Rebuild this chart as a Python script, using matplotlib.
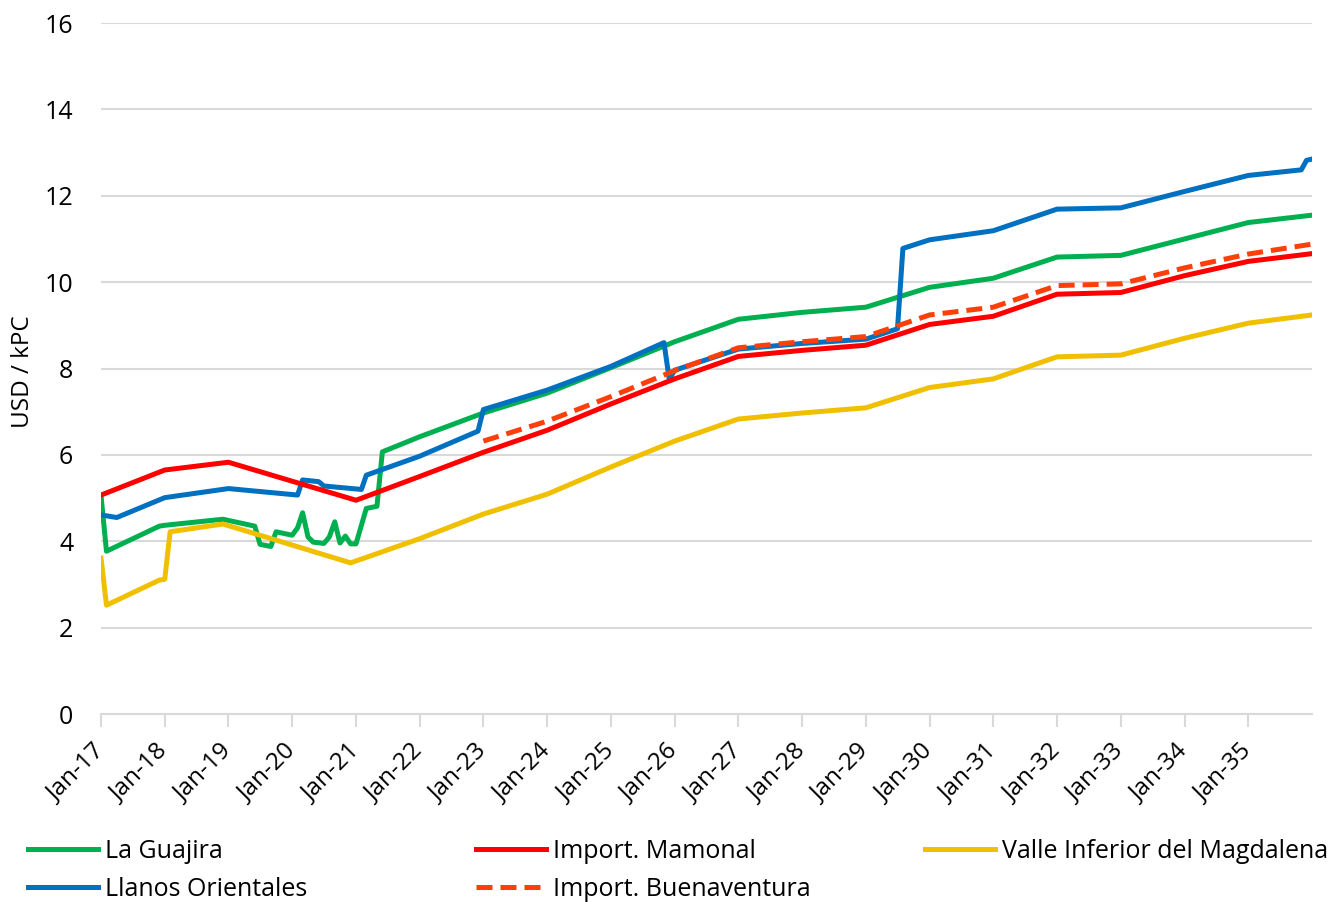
import matplotlib.pyplot as plt
import pandas as pd

# vertices: month index counted from Jan-2017, value in USD / kPC
guajira_m = [0, 1, 11, 12, 23, 29, 30, 32, 33, 36, 37, 38, 39, 40, 42, 43, 44, 45, 46, 47, 48,
             50, 52, 53, 60, 72, 84, 96, 108, 120, 132, 144, 156, 168, 180, 192, 204, 216, 228]
guajira_v = [5.05, 3.77, 4.35, 4.37, 4.51, 4.35, 3.93, 3.88, 4.22, 4.14, 4.31, 4.66, 4.10, 3.98,
             3.95, 4.10, 4.45, 3.96, 4.12, 3.94, 3.94, 4.76, 4.81, 6.07, 6.42, 6.97, 7.43, 8.02,
             8.62, 9.14, 9.30, 9.42, 9.88, 10.09, 10.58, 10.62, 11.00, 11.38, 11.55]

llanos_m = [0, 3, 12, 24, 37, 38, 41, 42, 49, 50, 60, 71, 72, 84, 96, 106, 107, 108, 120, 132,
            144, 150, 151, 156, 168, 180, 192, 204, 216, 226, 227, 228]
llanos_v = [4.61, 4.55, 5.01, 5.22, 5.07, 5.42, 5.38, 5.28, 5.20, 5.53, 5.97, 6.55, 7.05, 7.50,
            8.05, 8.60, 7.75, 7.96, 8.45, 8.58, 8.68, 8.92, 10.78, 10.98, 11.19, 11.69, 11.72,
            12.10, 12.47, 12.60, 12.82, 12.85]

mamonal_m = [0, 12, 24, 48, 60, 72, 84, 96, 108, 120, 132, 144, 156, 168, 180, 192, 204, 216, 228]
mamonal_v = [5.07, 5.65, 5.83, 4.95, 5.50, 6.06, 6.57, 7.18, 7.76, 8.28, 8.42, 8.54, 9.02, 9.21,
             9.72, 9.76, 10.15, 10.48, 10.66]

buenaventura_m = [72, 84, 96, 108, 120, 132, 144, 156, 168, 180, 192, 204, 216, 228]
buenaventura_v = [6.32, 6.78, 7.35, 7.95, 8.48, 8.62, 8.74, 9.24, 9.42, 9.92, 9.96, 10.33, 10.65, 10.88]

valle_m = [0, 1, 11, 12, 13, 23, 47, 60, 72, 84, 96, 108, 120, 132, 144, 156, 168, 180, 192, 204, 216, 228]
valle_v = [3.61, 2.52, 3.10, 3.12, 4.22, 4.40, 3.50, 4.06, 4.63, 5.09, 5.72, 6.32, 6.83, 6.97, 7.09,
           7.56, 7.76, 8.27, 8.31, 8.70, 9.05, 9.24]


def to_dates(months):
    return [pd.Timestamp(2017, 1, 1) + pd.DateOffset(months=m) for m in months]


plt.rcParams['font.family'] = ['Open Sans', 'DejaVu Sans']
fig = plt.figure(figsize=(13.42, 9.02), dpi=100)
ax = fig.add_axes([0.0753, 0.2084, 0.9023, 0.7661])

lw = 3.6
l_g, = ax.plot(to_dates(guajira_m), guajira_v, color="#00B050", lw=lw, label="La Guajira")
l_l, = ax.plot(to_dates(llanos_m), llanos_v, color="#0070C0", lw=lw, label="Llanos Orientales")
l_m, = ax.plot(to_dates(mamonal_m), mamonal_v, color="#FF0000", lw=lw, label="Import. Mamonal")
l_b, = ax.plot(to_dates(buenaventura_m), buenaventura_v, color="#FF3F0A", lw=lw,
               ls=(0, (3.2, 1.6)), label="Import. Buenaventura")
l_v, = ax.plot(to_dates(valle_m), valle_v, color="#F0C000", lw=lw,
               label="Valle Inferior del Magdalena")

ax.set_xlim(pd.Timestamp(2017, 1, 1), pd.Timestamp(2036, 1, 1))
ax.set_ylim(0, 16)
ax.set_yticks(range(0, 17, 2))
ax.yaxis.grid(True, color="#d9d9d9", lw=1.5)
ax.set_axisbelow(True)

years = [pd.Timestamp(y, 1, 1) for y in range(2017, 2036)]
ax.set_xticks(years)
ax.set_xticklabels([d.strftime("%b-%y") for d in years], rotation=45, ha="right", va="center",
                   rotation_mode="anchor", fontsize=17.5)
ax.tick_params(axis="x", length=9, width=1.5, color="#d9d9d9", pad=15)
ax.tick_params(axis="y", length=0, labelsize=18, pad=20)

for s in ["top", "right", "left"]:
    ax.spines[s].set_visible(False)
ax.spines["bottom"].set_color("#d9d9d9")
ax.spines["bottom"].set_linewidth(1.5)

ax.set_ylabel("USD / kPC", fontsize=17.5)
ax.yaxis.set_label_coords(-0.0545, 0.496)

# three legend columns placed like the original
leg_kw = dict(loc="upper left", frameon=False, fontsize=18, handlelength=2.8, handletextpad=0.28,
              labelspacing=0.5, borderpad=0, borderaxespad=0)
top = 1 - 839 / 902
fig.legend(handles=[l_g, l_l], bbox_to_anchor=(28 / 1342, top), **leg_kw)
fig.legend(handles=[l_m, l_b], bbox_to_anchor=(476 / 1342, top), **leg_kw)
fig.legend(handles=[l_v], bbox_to_anchor=(925 / 1342, top), **leg_kw)

fig.savefig("out.png", dpi=100)
